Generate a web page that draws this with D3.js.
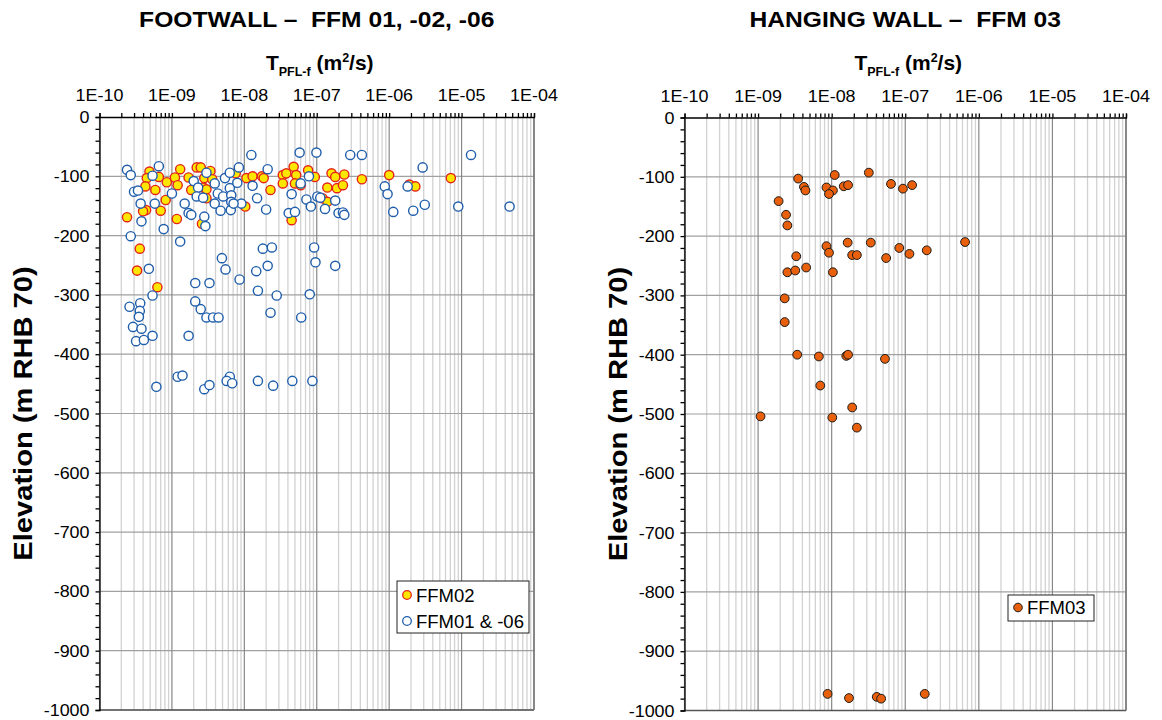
<!DOCTYPE html>
<html lang="en">
<head>
<meta charset="UTF-8">
<title>Footwall / Hanging wall transmissivity vs elevation</title>
<script src="https://d3js.org/d3.v7.min.js"></script>
<style>
  body { margin: 0; background: #fff; }
  svg text { font-family: "Liberation Sans", Arial, sans-serif; fill: #000; white-space: pre; }
</style>
</head>
<body>
<div id="chart"></div>
<script>
// ---- data: [transmissivity T (m2/s), elevation (m RHB 70)] ----
const ffm02 = [
  [4.9e-10,-92],[4.5e-10,-103],[4.3e-10,-117],[6.6e-10,-101],[5.9e-10,-123],[8.5e-10,-110],
  [8.2e-10,-140],[4.4e-10,-157],[4.0e-10,-159],[7.0e-10,-158],[2.4e-10,-169],[1.17e-9,-172],
  [1.1e-9,-102],[1.2e-9,-115],[1.3e-9,-88],[1.7e-9,-102],[1.85e-9,-123],[2.2e-9,-85],
  [2.5e-9,-85],[2.8e-9,-103],[2.7e-9,-119],[3.0e-9,-122],[3.4e-9,-91],[3.0e-9,-137],
  [2.6e-9,-180],[3.6e-9,-105],[7.6e-9,-95],[1.07e-8,-103],[1.3e-8,-100],[1.75e-8,-100],
  [1.85e-8,-103],[2.3e-8,-123],[1.03e-8,-151],[3.4e-8,-98],[3.4e-8,-112],[3.8e-8,-95],
  [4.8e-8,-84],[5.2e-8,-98],[5.0e-8,-112],[6.0e-8,-115],[7.6e-8,-90],[9.4e-8,-101],
  [4.5e-8,-174],[1.4e-7,-119],[1.2e-7,-137],[1.4e-7,-143],[1.6e-7,-95],[1.8e-7,-101],
  [1.9e-7,-120],[2.4e-7,-97],[4.2e-7,-105],[2.3e-7,-115],[1.0e-6,-98],[1.9e-6,-114],
  [2.3e-6,-117],[7.1e-6,-103],[3.6e-10,-222],[3.3e-10,-259],[6.3e-10,-287]
];

const ffm0106 = [
  [2.4e-10,-89],[2.7e-10,-98],[6.6e-10,-83],[5.4e-10,-99],[3.0e-10,-126],[3.4e-10,-124],
  [3.7e-10,-146],[5.8e-10,-146],[3.8e-10,-176],[7.7e-10,-189],[1.0e-9,-129],[1.5e-9,-146],
  [1.7e-9,-162],[1.85e-9,-165],[2.0e-9,-108],[2.3e-9,-119],[2.2e-9,-134],[2.7e-9,-136],
  [2.8e-9,-168],[2.9e-9,-184],[3.0e-9,-94],[3.9e-9,-112],[4.3e-9,-129],[3.9e-9,-146],
  [5.1e-9,-134],[4.7e-9,-158],[5.4e-9,-103],[6.3e-9,-94],[6.3e-9,-120],[6.6e-9,-132],
  [6.6e-9,-143],[6.5e-9,-157],[8.4e-9,-85],[8.0e-9,-111],[9.1e-9,-146],[7.1e-9,-146],
  [1.25e-8,-64],[1.3e-8,-116],[1.5e-8,-137],[2.1e-8,-88],[2.0e-8,-156],[4.1e-8,-162],
  [4.5e-8,-130],[5.0e-8,-160],[5.8e-8,-60],[6.0e-8,-112],[7.8e-8,-100],[7.2e-8,-139],
  [8.3e-8,-151],[9.9e-8,-60],[1.02e-7,-134],[1.12e-7,-136],[1.3e-7,-155],[2.0e-7,-162],
  [2.9e-7,-64],[4.2e-7,-64],[1.35e-5,-64],[2.9e-6,-85],[8.7e-7,-117],[9.5e-7,-130],
  [1.8e-6,-117],[1.8e-7,-141],[2.3e-7,-161],[2.4e-7,-165],[1.14e-6,-160],[2.15e-6,-158],
  [3.1e-6,-148],[9.0e-6,-151],[4.6e-5,-151],
  [2.7e-10,-201],[1.3e-9,-210],[1.8e-8,-222],[2.4e-8,-220],[9.2e-8,-220],[4.9e-9,-238],
  [9.6e-8,-245],[1.8e-7,-251],[5.5e-9,-257],[4.8e-10,-256],[1.46e-8,-260],[2.1e-8,-251],
  [8.6e-9,-274],[2.1e-9,-280],[3.3e-9,-280],[1.54e-8,-293],[5.4e-10,-301],[2.8e-8,-301],
  [8.0e-8,-299],[2.6e-10,-320],[3.65e-10,-314],[3.6e-10,-327],[2.1e-9,-311],[2.5e-9,-324],
  [3.5e-10,-337],[3.0e-9,-338],[3.7e-9,-338],[4.4e-9,-338],[2.3e-8,-330],[6.1e-8,-338],
  [2.9e-10,-354],[3.8e-10,-357],[3.2e-10,-378],[4.1e-10,-376],[5.4e-10,-369],[1.7e-9,-369],
  [6.1e-10,-455],[1.2e-9,-438],[1.4e-9,-436],[2.8e-9,-459],[3.3e-9,-452],[6.3e-9,-438],
  [5.7e-9,-445],[6.8e-9,-449],[1.54e-8,-445],[2.5e-8,-453],[4.6e-8,-445],[8.7e-8,-445]
];

const ffm03 = [
  [3.5e-9,-103],[4.2e-9,-117],[4.4e-9,-123],[1.1e-8,-97],[8.5e-9,-118],[1.04e-8,-123],
  [9.2e-9,-129],[1.46e-8,-116],[1.67e-8,-114],[3.2e-8,-93],[6.4e-8,-112],[9.3e-8,-120],
  [1.24e-7,-114],[1.9e-9,-141],[2.4e-9,-164],[2.5e-9,-182],[8.5e-9,-217],[9.2e-9,-228],
  [1.65e-8,-211],[3.4e-8,-211],[1.9e-8,-232],[2.2e-8,-232],[5.5e-8,-237],[8.3e-8,-220],
  [1.14e-7,-230],[1.96e-7,-224],[6.5e-7,-210],[3.3e-9,-234],[2.5e-9,-261],[3.2e-9,-258],
  [4.5e-9,-253],[1.04e-8,-261],[2.3e-9,-305],[2.3e-9,-345],[3.4e-9,-400],[6.7e-9,-403],
  [1.58e-8,-402],[1.67e-8,-400],[5.3e-8,-407],[7.0e-9,-452],[1.9e-8,-489],[1.08e-9,-504],
  [1.02e-8,-506],[2.2e-8,-523],[8.8e-9,-972],[1.72e-8,-979],[4.1e-8,-977],[4.7e-8,-980],
  [1.84e-7,-972]
];

// axis ticks
const decades = [-10, -9, -8, -7, -6, -5, -4];
const elevTicks = d3.range(0, -1001, -100);
const elevMinor = d3.range(0, -1001, -20);

const width = 1162, height = 720;
const svg = d3.select("#chart").append("svg")
  .attr("width", width)
  .attr("height", height);

const stretch = 1.12; // the original fonts run a little wide

function fmtExp(e) {
  return "1E" + (e < 0 ? "-" : "+") + String(Math.abs(e)).padStart(2, "0");
}

function wideText(g, x, y, str, size, anchor, bold) {
  return g.append("text")
    .attr("transform", `translate(${x},${y}) scale(${stretch},1)`)
    .attr("text-anchor", anchor)
    .style("font-size", size + "px")
    .style("font-weight", bold ? "bold" : "normal")
    .text(str);
}

function drawPanel(opts) {
  const { left, right, top, bottom, title, ytitleX } = opts;
  const g = svg.append("g");

  const x = d3.scaleLog().domain([1e-10, 1e-4]).range([left, right]);
  const y = d3.scaleLinear().domain([0, -1000]).range([top, bottom]);

  // minor + major vertical gridlines
  const minorVals = [];
  decades.slice(0, -1).forEach(d => {
    for (let k = 2; k <= 9; k++) minorVals.push(k * Math.pow(10, d));
  });
  const majorVals = decades.map(d => Math.pow(10, d));

  g.append("g").selectAll("line").data(minorVals).join("line")
    .attr("x1", d => x(d)).attr("x2", d => x(d))
    .attr("y1", top).attr("y2", bottom)
    .attr("stroke", "#d2d2d2").attr("stroke-width", 1.3);

  g.append("g").selectAll("line").data(elevTicks.slice(1)).join("line")
    .attr("x1", left).attr("x2", right)
    .attr("y1", d => y(d)).attr("y2", d => y(d))
    .attr("stroke", "#a0a0a0").attr("stroke-width", 1.2);

  g.append("g").selectAll("line").data(majorVals).join("line")
    .attr("x1", d => x(d)).attr("x2", d => x(d))
    .attr("y1", top).attr("y2", bottom)
    .attr("stroke", "#888").attr("stroke-width", 1.2);

  // frame (right and bottom)
  g.append("line").attr("x1", left).attr("x2", right).attr("y1", bottom).attr("y2", bottom)
    .attr("stroke", "#555").attr("stroke-width", 1.5);
  g.append("line").attr("x1", right).attr("x2", right).attr("y1", top).attr("y2", bottom)
    .attr("stroke", "#777").attr("stroke-width", 1.5);

  // top axis (ticks only, labels drawn separately)
  const xAxis = d3.axisTop(x)
    .tickValues(majorVals.concat(minorVals))
    .tickSize(4)
    .tickFormat("");
  g.append("g")
    .attr("transform", `translate(0,${top})`)
    .call(xAxis)
    .call(s => s.selectAll("path, line").attr("stroke", "#000").attr("stroke-width", 1.3));

  const yAxis = d3.axisLeft(y)
    .tickValues(elevMinor)
    .tickSize(4)
    .tickFormat("");
  g.append("g")
    .attr("transform", `translate(${left},0)`)
    .call(yAxis)
    .call(s => s.selectAll("path, line").attr("stroke", "#000").attr("stroke-width", 1.3));

  // major tick labels
  decades.forEach(d => wideText(g, x(Math.pow(10, d)), top - 16, fmtExp(d), 16, "middle", false));
  elevTicks.forEach(v => wideText(g, left - 10, y(v) + 6, String(v), 16, "end", false));

  // titles
  const cx = (left + right) / 2;
  wideText(g, cx, 27, title, 22, "middle", true);

  const t = g.append("text")
    .attr("x", cx + 3).attr("y", 70)
    .attr("text-anchor", "middle")
    .style("font-size", "21px")
    .style("font-weight", "bold");
  t.append("tspan").text("T");
  t.append("tspan").attr("dy", 6).style("font-size", "12.5px").text("PFL-f");
  t.append("tspan").attr("dy", -6).text(" (m");
  t.append("tspan").attr("dy", -8).style("font-size", "12.5px").text("2");
  t.append("tspan").attr("dy", 8).text("/s)");

  g.append("text")
    .attr("transform", `translate(${ytitleX},${(top + bottom) / 2}) rotate(-90) scale(${stretch},1)`)
    .attr("text-anchor", "middle")
    .style("font-size", "26px")
    .style("font-weight", "bold")
    .text("Elevation (m RHB 70)");

  return { g, x, y };
}

// ---------- left panel: footwall ----------
const P1 = drawPanel({
  left: 99.5, right: 534, top: 117, bottom: 710,
  title: "FOOTWALL \u2013  FFM 01, -02, -06", ytitleX: 32
});

P1.g.append("g").selectAll("circle").data(ffm02).join("circle")
  .attr("cx", d => P1.x(d[0])).attr("cy", d => P1.y(d[1]))
  .attr("r", 4.6)
  .attr("fill", "#ffe600").attr("stroke", "#e3231b").attr("stroke-width", 1.4);

P1.g.append("g").selectAll("circle").data(ffm0106).join("circle")
  .attr("cx", d => P1.x(d[0])).attr("cy", d => P1.y(d[1]))
  .attr("r", 4.6)
  .attr("fill", "#fff").attr("stroke", "#1f5eab").attr("stroke-width", 1.4);

// legend
const lg1 = P1.g.append("g");
lg1.append("rect").attr("x", 397).attr("y", 581).attr("width", 132).attr("height", 52)
  .attr("fill", "#fff").attr("stroke", "#222").attr("stroke-width", 1);
lg1.append("circle").attr("cx", 407).attr("cy", 595).attr("r", 4.3)
  .attr("fill", "#ffe600").attr("stroke", "#e3231b").attr("stroke-width", 1.3);
lg1.append("text").attr("x", 416).attr("y", 601.5).style("font-size", "18.5px").text("FFM02");
lg1.append("circle").attr("cx", 407).attr("cy", 621).attr("r", 4.3)
  .attr("fill", "#fff").attr("stroke", "#1f5eab").attr("stroke-width", 1.3);
lg1.append("text").attr("x", 416).attr("y", 627.5).style("font-size", "18.5px").text("FFM01 & -06");

// ---------- right panel: hanging wall ----------
const P2 = drawPanel({
  left: 684.5, right: 1126, top: 117.5, bottom: 710.5,
  title: "HANGING WALL \u2013  FFM 03", ytitleX: 627
});

P2.g.append("g").selectAll("circle").data(ffm03).join("circle")
  .attr("cx", d => P2.x(d[0])).attr("cy", d => P2.y(d[1]))
  .attr("r", 4.4)
  .attr("fill", "#e8600c").attr("stroke", "#1a1a1a").attr("stroke-width", 1);

const lg2 = P2.g.append("g");
lg2.append("rect").attr("x", 1008).attr("y", 595).attr("width", 86).attr("height", 26)
  .attr("fill", "#fff").attr("stroke", "#222").attr("stroke-width", 1);
lg2.append("circle").attr("cx", 1018).attr("cy", 607.5).attr("r", 4.3)
  .attr("fill", "#e8600c").attr("stroke", "#1a1a1a").attr("stroke-width", 1);
lg2.append("text").attr("x", 1027).attr("y", 614).style("font-size", "18.5px").text("FFM03");
</script>
</body>
</html>
